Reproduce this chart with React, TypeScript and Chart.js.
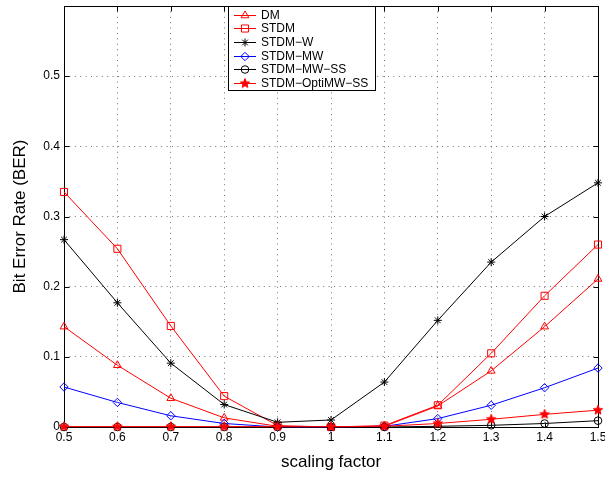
import React, { useEffect, useRef } from 'react';
import { Chart, registerables } from 'chart.js';
import { drawPoint } from 'chart.js/helpers';

Chart.register(...registerables);

// ---- data ----
const scalingFactors = [0.5, 0.6, 0.7, 0.8, 0.9, 1.0, 1.1, 1.2, 1.3, 1.4, 1.5];
const seriesLabels = ['DM', 'STDM', 'STDM\u2212W', 'STDM\u2212MW', 'STDM\u2212MW\u2212SS', 'STDM\u2212OptiMW\u2212SS'];
const dmBER = [0.143, 0.088, 0.041, 0.013, 0.001, 0.0, 0.001, 0.030, 0.080, 0.143, 0.211];
const stdmBER = [0.335, 0.254, 0.144, 0.044, 0.002, 0.0, 0.002, 0.031, 0.105, 0.187, 0.260];
const stdmWBER = [0.267, 0.177, 0.091, 0.032, 0.0067, 0.010, 0.064, 0.152, 0.235, 0.300, 0.348];
const stdmMWBER = [0.057, 0.035, 0.016, 0.005, 0.0, 0.0, 0.001, 0.012, 0.031, 0.056, 0.084];
const stdmMWSSBER = [0.0, 0.0, 0.0, 0.0, 0.0, 0.0, 0.0, 0.001, 0.0024, 0.005, 0.009];
const stdmOptiBER = [0.0005, 0.0005, 0.0005, 0.0005, 0.0005, 0.0005, 0.001, 0.005, 0.011, 0.018, 0.024];
const xTicks = [0.5, 0.6, 0.7, 0.8, 0.9, 1.0, 1.1, 1.2, 1.3, 1.4, 1.5];
const yTicks = [0, 0.1, 0.2, 0.3, 0.4, 0.5];

const FONT = "'Liberation Sans', Arial, Helvetica, sans-serif";
const RED = '#ff0000';
const BLACK = '#000000';
const BLUE = '#0000ff';

function makePentagram(r: number, color: string) {
  const size = Math.ceil(r * 2 + 2);
  const c = document.createElement('canvas');
  c.width = size;
  c.height = size;
  const ctx = c.getContext('2d')!;
  const cx = size / 2;
  const cy = size / 2;
  ctx.beginPath();
  for (let i = 0; i < 10; i++) {
    const ang = -Math.PI / 2 + (i * Math.PI) / 5;
    const rad = i % 2 === 0 ? r : r * 0.42;
    ctx.lineTo(cx + rad * Math.cos(ang), cy + rad * Math.sin(ang));
  }
  ctx.closePath();
  ctx.fillStyle = color;
  ctx.fill();
  ctx.strokeStyle = color;
  ctx.lineWidth = 1;
  ctx.stroke();
  return c;
}

const fmt = (v: number) => String(Number(v.toFixed(1)));

export default function App() {
  const ref = useRef<HTMLCanvasElement | null>(null);

  useEffect(() => {
    document.body.style.margin = '0';
    const canvas = ref.current;
    if (!canvas) return;
    const star5 = makePentagram(5, RED);

    const defs = [
      { data: dmBER, color: RED, style: 'triangle', radius: 4.5 },
      { data: stdmBER, color: RED, style: 'rect', radius: 5 },
      { data: stdmWBER, color: BLACK, style: 'star', radius: 4 },
      { data: stdmMWBER, color: BLUE, style: 'rectRot', radius: 4.2 },
      { data: stdmMWSSBER, color: BLACK, style: 'circle', radius: 3.8 },
      { data: stdmOptiBER, color: RED, style: star5 as any, radius: 5 },
    ];

    const datasets = defs.map((d, i) => ({
      label: seriesLabels[i],
      data: scalingFactors.map((x, j) => ({ x, y: d.data[j] })),
      borderColor: d.color,
      backgroundColor: 'rgba(0,0,0,0)',
      borderWidth: 1,
      pointStyle: d.style,
      pointRadius: d.radius,
      pointHoverRadius: d.radius,
      pointBorderWidth: 1,
      pointBorderColor: d.color,
      pointBackgroundColor: 'rgba(0,0,0,0)',
      tension: 0,
      clip: false as any,
      order: defs.length - 1 - i,
    }));

    const boxPlugin = {
      id: 'matlabBox',
      beforeDatasetsDraw(chart: any) {
        const { ctx, chartArea } = chart;
        const l = Math.round(chartArea.left) + 0.5;
        const r = Math.round(chartArea.right) + 0.5;
        const t = Math.round(chartArea.top) + 0.5;
        const b = Math.round(chartArea.bottom) + 0.5;
        ctx.save();
        ctx.strokeStyle = '#000';
        ctx.lineWidth = 1;
        ctx.setLineDash([]);
        ctx.strokeRect(l, t, r - l, b - t);
        const xs = chart.scales.x;
        const ys = chart.scales.y;
        const tl = 5;
        ctx.beginPath();
        xTicks.forEach((v) => {
          const px = Math.round(xs.getPixelForValue(v)) + 0.5;
          ctx.moveTo(px, b);
          ctx.lineTo(px, b - tl);
          ctx.moveTo(px, t);
          ctx.lineTo(px, t + tl);
        });
        yTicks.forEach((v) => {
          const py = Math.round(ys.getPixelForValue(v)) + 0.5;
          ctx.moveTo(l, py);
          ctx.lineTo(l + tl, py);
          ctx.moveTo(r, py);
          ctx.lineTo(r - tl, py);
        });
        ctx.stroke();
        ctx.restore();
      },
      afterDatasetsDraw(chart: any) {
        const { ctx } = chart;
        ctx.save();
        const bx = 228.5, by = 6.5, bw = 147, bh = 84;
        ctx.fillStyle = '#fff';
        ctx.fillRect(bx, by, bw, bh);
        ctx.strokeStyle = '#000';
        ctx.lineWidth = 1;
        ctx.setLineDash([]);
        ctx.strokeRect(bx, by, bw, bh);
        ctx.font = `12px ${FONT}`;
        ctx.textBaseline = 'middle';
        ctx.textAlign = 'left';
        defs.forEach((d, i) => {
          const y = Math.round(14.7 + 13.6 * i) + 0.5;
          ctx.strokeStyle = d.color;
          ctx.lineWidth = 1;
          ctx.beginPath();
          ctx.moveTo(234, y);
          ctx.lineTo(256, y);
          ctx.stroke();
          ctx.fillStyle = 'rgba(0,0,0,0)';
          drawPoint(ctx, { pointStyle: d.style, radius: d.radius, borderWidth: 1, rotation: 0 } as any, 245, y);
          ctx.fillStyle = '#000';
          ctx.fillText(seriesLabels[i], 261, y + 0.5);
        });
        ctx.restore();
      },
    };

    const gridColor = 'rgba(0,0,0,0.55)';

    const chart = new Chart(canvas, {
      type: 'line',
      data: { datasets: datasets as any },
      options: {
        animation: false,
        responsive: false,
        maintainAspectRatio: false,
        events: [],
        layout: { padding: { top: 6, right: 7, left: 0, bottom: 0 } },
        plugins: { legend: { display: false }, tooltip: { enabled: false } },
        scales: {
          x: {
            type: 'linear',
            min: 0.5,
            max: 1.5,
            afterBuildTicks: (s: any) => {
              s.ticks = xTicks.map((v) => ({ value: v }));
            },
            afterFit: (s: any) => {
              s.height = 50;
              s.paddingLeft = 0;
              s.paddingRight = 0;
            },
            ticks: {
              callback: (v: any) => fmt(Number(v)),
              font: { family: FONT, size: 12 },
              color: '#000',
              padding: 3,
              maxRotation: 0,
              autoSkip: false,
            },
            grid: { color: gridColor, drawTicks: false, lineWidth: 1 },
            border: { display: false, dash: [1, 4.4] },
            title: {
              display: true,
              text: 'scaling factor',
              font: { family: FONT, size: 17 },
              color: '#000',
              padding: { top: 0, bottom: 4 },
            },
          },
          y: {
            type: 'linear',
            min: 0,
            max: 0.6,
            afterBuildTicks: (s: any) => {
              s.ticks = [...yTicks, 0.6].map((v) => ({ value: v }));
            },
            afterFit: (s: any) => {
              s.width = 64;
              s.paddingTop = 0;
              s.paddingBottom = 0;
            },
            ticks: {
              callback: (v: any) => (Math.abs(Number(v) - 0.6) < 1e-9 ? '' : fmt(Number(v))),
              font: { family: FONT, size: 12 },
              color: '#000',
              padding: 4,
              autoSkip: false,
            },
            grid: { color: gridColor, drawTicks: false, lineWidth: 1 },
            border: { display: false, dash: [1, 4.4] },
            title: {
              display: true,
              text: 'Bit Error Rate (BER)',
              font: { family: FONT, size: 17 },
              color: '#000',
              padding: { top: 10, bottom: 0 },
            },
          },
        },
      },
      plugins: [boxPlugin],
    });

    return () => {
      chart.destroy();
    };
  }, []);

  return (
    <div style={{ width: 605, height: 477 }}>
      <canvas ref={ref} width={605} height={477} style={{ display: 'block', width: 605, height: 477 }} />
    </div>
  );
}
